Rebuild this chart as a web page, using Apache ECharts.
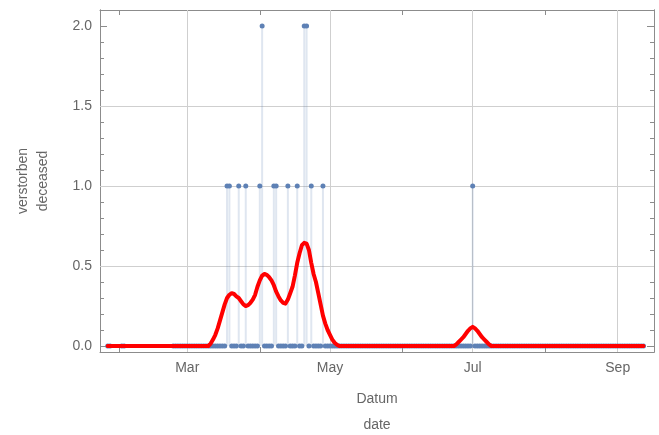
<!DOCTYPE html>
<html>
<head>
<meta charset="utf-8">
<script src="https://cdn.jsdelivr.net/npm/echarts@6/dist/echarts.min.js"></script>
<style>
  html, body { margin: 0; padding: 0; background: #fff; }
  #chart { width: 659px; height: 435px; }
</style>
</head>
<body>
<div id="chart"></div>
<script>
// days with deaths (all other reported days are 0)
var deathDates = ['2020-03-18', '2020-03-19', '2020-03-23', '2020-03-26', '2020-04-01', '2020-04-02',
  '2020-04-07', '2020-04-08', '2020-04-13', '2020-04-17', '2020-04-20', '2020-04-21',
  '2020-04-23', '2020-04-28', '2020-07-01'];
var deathCounts = [1, 1, 1, 1, 1, 2, 1, 1, 1, 1, 2, 2, 1, 1, 1];
// early single reports, then daily reports from firstDay to lastDay
var earlyDates = ['2020-01-27', '2020-01-28', '2020-02-02', '2020-02-03'];
var firstDay = '2020-02-24';
var lastDay = '2020-09-12';

// smoothed curve
var curveDates = ['2020-01-27',
  '2020-03-10', '2020-03-11', '2020-03-12', '2020-03-13', '2020-03-14', '2020-03-15', '2020-03-16',
  '2020-03-17', '2020-03-18', '2020-03-19', '2020-03-20', '2020-03-21', '2020-03-22', '2020-03-23',
  '2020-03-24', '2020-03-25', '2020-03-26', '2020-03-27', '2020-03-28', '2020-03-29', '2020-03-30',
  '2020-03-31', '2020-04-01', '2020-04-02', '2020-04-03', '2020-04-04', '2020-04-05', '2020-04-06',
  '2020-04-07', '2020-04-08', '2020-04-09', '2020-04-10', '2020-04-11', '2020-04-12', '2020-04-13',
  '2020-04-14', '2020-04-15', '2020-04-16', '2020-04-17', '2020-04-18', '2020-04-19', '2020-04-20',
  '2020-04-21', '2020-04-22', '2020-04-23', '2020-04-24', '2020-04-25', '2020-04-26', '2020-04-27',
  '2020-04-28', '2020-04-29', '2020-04-30', '2020-05-01', '2020-05-02', '2020-05-03', '2020-05-04',
  '2020-05-05',
  '2020-06-23', '2020-06-24', '2020-06-25', '2020-06-26', '2020-06-27', '2020-06-28', '2020-06-29',
  '2020-06-30', '2020-07-01', '2020-07-02', '2020-07-03', '2020-07-04', '2020-07-05', '2020-07-06',
  '2020-07-07', '2020-07-08', '2020-07-09',
  '2020-09-12'];
var curveValues = [0,
  0, 0.015, 0.04, 0.07, 0.11, 0.16, 0.21,
  0.26, 0.30, 0.32, 0.33, 0.325, 0.31, 0.30,
  0.28, 0.26, 0.25, 0.255, 0.27, 0.29, 0.32,
  0.37, 0.41, 0.44, 0.45, 0.445, 0.43, 0.41,
  0.38, 0.34, 0.31, 0.285, 0.27, 0.265, 0.29,
  0.33, 0.37, 0.44, 0.52, 0.58, 0.63, 0.645,
  0.64, 0.60, 0.52, 0.45, 0.40, 0.33, 0.26,
  0.19, 0.14, 0.10, 0.07, 0.04, 0.02, 0.008,
  0,
  0, 0.01, 0.025, 0.04, 0.055, 0.075, 0.095,
  0.11, 0.12, 0.11, 0.095, 0.075, 0.055, 0.04,
  0.025, 0.01, 0,
  0];

var tickMonths = ['2020-02-01', '2020-03-01', '2020-04-01', '2020-05-01', '2020-06-01', '2020-07-01', '2020-08-01', '2020-09-01'];
var labelMonths = ['2020-03-01', '2020-05-01', '2020-07-01', '2020-09-01'];
var monthNames = ['Jan', 'Feb', 'Mar', 'Apr', 'May', 'Jun', 'Jul', 'Aug', 'Sep', 'Oct', 'Nov', 'Dec'];
var yMajor = [0, 0.5, 1.0, 1.5, 2.0];
var yMinor = [0, 0.1, 0.2, 0.3, 0.4, 0.5, 0.6, 0.7, 0.8, 0.9, 1.0, 1.1, 1.2, 1.3, 1.4, 1.5, 1.6, 1.7, 1.8, 1.9, 2.0];
var yGrid = [0.5, 1.0, 1.5];

var DAY = 86400000;
var t = function (s) { return Date.parse(s); };
var xMin = t('2020-03-01') - 37.3 * DAY;
var xMax = t('2020-03-01') + 199.5 * DAY;

// build the points
var countByDay = {};
deathDates.forEach(function (d, i) { countByDay[t(d)] = deathCounts[i]; });
var dots = [];
earlyDates.forEach(function (d) { dots.push([t(d), 0]); });
for (var ms = t(firstDay); ms <= t(lastDay); ms += DAY) {
  dots.push([ms, countByDay[ms] || 0]);
}
var stems = deathDates.map(function (d, i) { return [t(d), deathCounts[i]]; });
var curve = curveDates.map(function (d, i) { return [t(d), curveValues[i]]; });

var frame = '#8c8c8c';
var txt = '#666';
var font = 'Liberation Sans, Arial, sans-serif';

function xAx(pos, withLabels) {
  return {
    type: 'value', position: pos, min: xMin, max: xMax,
    axisLine: { show: true, onZero: false, lineStyle: { color: frame, width: 1 } },
    axisTick: { show: true, inside: true, length: 5, customValues: tickMonths.map(t), lineStyle: { color: frame } },
    axisLabel: {
      show: withLabels, customValues: labelMonths.map(t), margin: 9,
      color: txt, fontSize: 14, fontFamily: font,
      formatter: function (v) { return monthNames[new Date(v).getUTCMonth()]; }
    },
    splitLine: { show: false }
  };
}
function yAx(pos, ticks, len, withLabels) {
  return {
    type: 'value', position: pos, min: -0.0375, max: 2.1,
    axisLine: { show: true, onZero: false, lineStyle: { color: frame, width: 1 } },
    axisTick: { show: true, inside: true, length: len, customValues: ticks, lineStyle: { color: frame } },
    axisLabel: {
      show: withLabels, customValues: yMajor, margin: 8,
      color: txt, fontSize: 14, fontFamily: font,
      formatter: function (v) { return v.toFixed(1); }
    },
    splitLine: { show: false }
  };
}

var bottomX = xAx('bottom', true);
bottomX.name = 'Datum\ndate';
bottomX.nameLocation = 'middle';
bottomX.nameGap = 34;
bottomX.nameTextStyle = { color: txt, fontSize: 14, fontFamily: font, lineHeight: 26 };

var leftY = yAx('left', yMajor, 7, true);
leftY.name = 'verstorben\ndeceased';
leftY.nameLocation = 'middle';
leftY.nameGap = 47;
leftY.nameTextStyle = { color: txt, fontSize: 14, fontFamily: font, lineHeight: 20 };

var gridLines = labelMonths.map(function (d) { return { xAxis: t(d) }; })
  .concat(yGrid.map(function (v) { return { yAxis: v }; }));

var myChart = echarts.init(document.getElementById('chart'), null, { renderer: 'canvas' });
myChart.setOption({
  animation: false,
  backgroundColor: '#fff',
  grid: { left: 100, right: 5, top: 10, bottom: 83, containLabel: false, outerBoundsMode: 'none' },
  xAxis: [bottomX, xAx('top', false)],
  yAxis: [leftY, yAx('left', yMinor, 4, false), yAx('right', yMajor, 7, false), yAx('right', yMinor, 4, false)],
  series: [
    {
      name: 'stems', type: 'bar', z: 2,
      barWidth: 2, barGap: '-100%',
      itemStyle: { color: 'rgba(94,129,181,0.2)' },
      data: stems,
      markLine: {
        z: 1, silent: true, symbol: 'none', label: { show: false },
        lineStyle: { color: '#cfcfcf', width: 1, type: 'solid' },
        data: gridLines
      }
    },
    {
      name: 'verstorben', type: 'scatter', z: 3,
      symbolSize: 5,
      itemStyle: { color: '#5e81b5', opacity: 1 },
      data: dots
    },
    {
      name: 'smooth', type: 'line', z: 4,
      showSymbol: false, smooth: false,
      lineStyle: { color: '#ff0000', width: 4, join: 'round', cap: 'round' },
      data: curve
    }
  ]
});
</script>
</body>
</html>
